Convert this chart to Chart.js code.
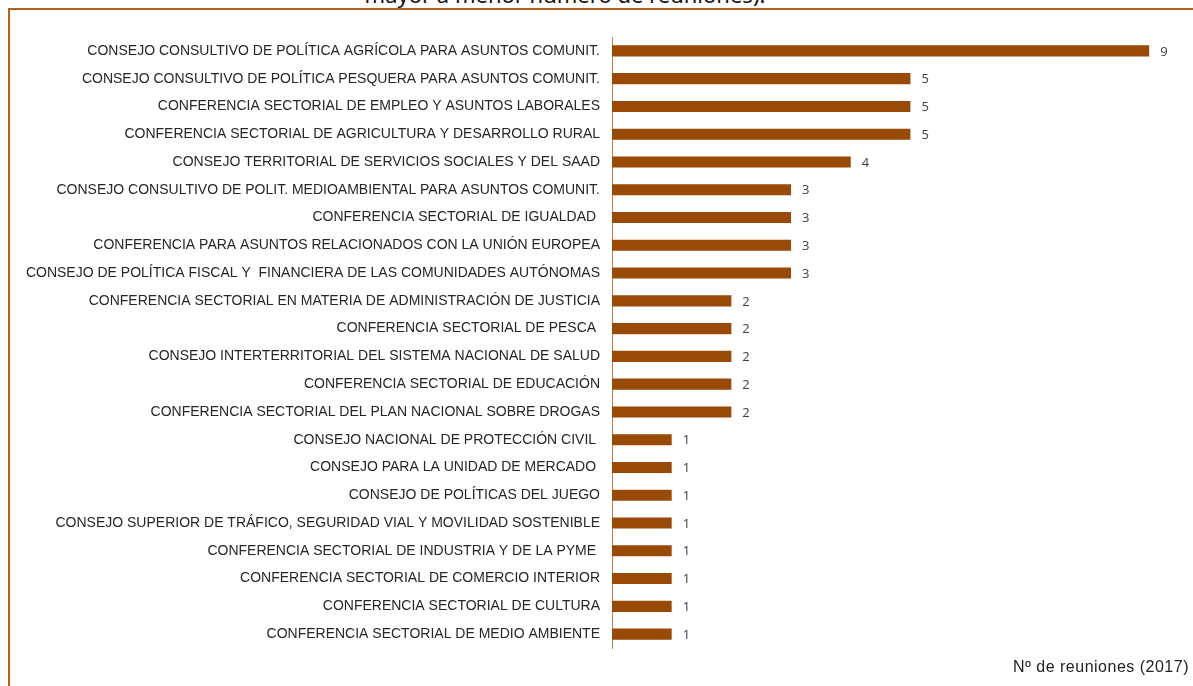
<!DOCTYPE html>
<html>
<head>
<meta charset="utf-8">
<script src="https://cdn.jsdelivr.net/npm/chart.js@4.4.0/dist/chart.umd.min.js"></script>
<style>
  html, body { margin: 0; padding: 0; background: #fff; overflow: hidden; }
  #wrap { position: relative; width: 1193px; height: 686px; }
  #frame { position: absolute; left: 8px; top: 8px; right: -20px; bottom: -20px;
           border-top: 2px solid #b0621e; border-left: 2px solid #b0621e; }
  #title { position: absolute; left: 0; width: 1130px; top: -21px; text-align: center;
           font-family: "Noto Sans", sans-serif; font-size: 22px; color: #111; }
  #xlabel { position: absolute; right: 4px; top: 658px; letter-spacing: 0.5px;
            font-family: "Liberation Sans", Arial, sans-serif; font-size: 16px; color: #222; }
  canvas { position: absolute; left: 0; top: 0; }
</style>
</head>
<body>
<div id="wrap">
  <div id="title">mayor a menor número de reuniones).</div>
  <div id="frame"></div>
  <canvas id="c" width="1193" height="686"></canvas>
  <div id="xlabel">Nº de reuniones (2017)</div>
</div>
<script>
// Órganos de cooperación y número de reuniones en 2017
const organos = [
  "CONSEJO CONSULTIVO DE POLÍTICA AGRÍCOLA PARA ASUNTOS COMUNIT.",
  "CONSEJO CONSULTIVO DE POLÍTICA PESQUERA PARA ASUNTOS COMUNIT.",
  "CONFERENCIA SECTORIAL DE EMPLEO Y ASUNTOS LABORALES",
  "CONFERENCIA SECTORIAL DE AGRICULTURA Y DESARROLLO RURAL",
  "CONSEJO TERRITORIAL DE SERVICIOS SOCIALES Y DEL SAAD",
  "CONSEJO CONSULTIVO DE POLIT. MEDIOAMBIENTAL PARA ASUNTOS COMUNIT.",
  "CONFERENCIA SECTORIAL DE IGUALDAD ",
  "CONFERENCIA PARA ASUNTOS RELACIONADOS CON LA UNIÓN EUROPEA",
  "CONSEJO DE POLÍTICA FISCAL Y  FINANCIERA DE LAS COMUNIDADES AUTÓNOMAS",
  "CONFERENCIA SECTORIAL EN MATERIA DE ADMINISTRACIÓN DE JUSTICIA",
  "CONFERENCIA SECTORIAL DE PESCA ",
  "CONSEJO INTERTERRITORIAL DEL SISTEMA NACIONAL DE SALUD",
  "CONFERENCIA SECTORIAL DE EDUCACIÓN",
  "CONFERENCIA SECTORIAL DEL PLAN NACIONAL SOBRE DROGAS",
  "CONSEJO NACIONAL DE PROTECCIÓN CIVIL ",
  "CONSEJO PARA LA UNIDAD DE MERCADO ",
  "CONSEJO DE POLÍTICAS DEL JUEGO",
  "CONSEJO SUPERIOR DE TRÁFICO, SEGURIDAD VIAL Y MOVILIDAD SOSTENIBLE",
  "CONFERENCIA SECTORIAL DE INDUSTRIA Y DE LA PYME ",
  "CONFERENCIA SECTORIAL DE COMERCIO INTERIOR",
  "CONFERENCIA SECTORIAL DE CULTURA",
  "CONFERENCIA SECTORIAL DE MEDIO AMBIENTE"
];
const reuniones = [9, 5, 5, 5, 4, 3, 3, 3, 3, 2, 2, 2, 2, 2, 1, 1, 1, 1, 1, 1, 1, 1];

// etiquetas de valor al final de cada barra
const valueLabels = {
  id: "valueLabels",
  afterDatasetsDraw(chart) {
    const ctx = chart.ctx;
    const meta = chart.getDatasetMeta(0);
    ctx.save();
    ctx.font = "13px 'Open Sans', sans-serif";
    ctx.fillStyle = "#404040";
    ctx.textBaseline = "middle";
    meta.data.forEach((bar, i) => {
      ctx.fillText(String(reuniones[i]), bar.x + 11, bar.y + 1);
    });
    ctx.restore();
  }
};

new Chart(document.getElementById("c"), {
  type: "bar",
  data: {
    labels: organos,
    datasets: [{
      data: reuniones,
      backgroundColor: "#9a4a07",
      borderWidth: 0,
      categoryPercentage: 1,
      barPercentage: 0.4
    }]
  },
  options: {
    indexAxis: "y",
    responsive: false,
    animation: false,
    events: [],
    layout: { padding: { top: 37, bottom: 38, right: 14, left: 0 } },
    plugins: { legend: { display: false }, tooltip: { enabled: false } },
    scales: {
      x: { display: false, min: 0, max: 9.5 },
      y: {
        afterFit(scale) { scale.width = 612; },
        grid: { display: false, drawTicks: false },
        border: { display: true, color: "#c08050", width: 1 },
        ticks: {
          padding: 12,
          autoSkip: false,
          color: "#262626",
          font: { family: "'Liberation Sans', Arial, sans-serif", size: 14 }
        }
      }
    }
  },
  plugins: [valueLabels]
});
</script>
</body>
</html>
